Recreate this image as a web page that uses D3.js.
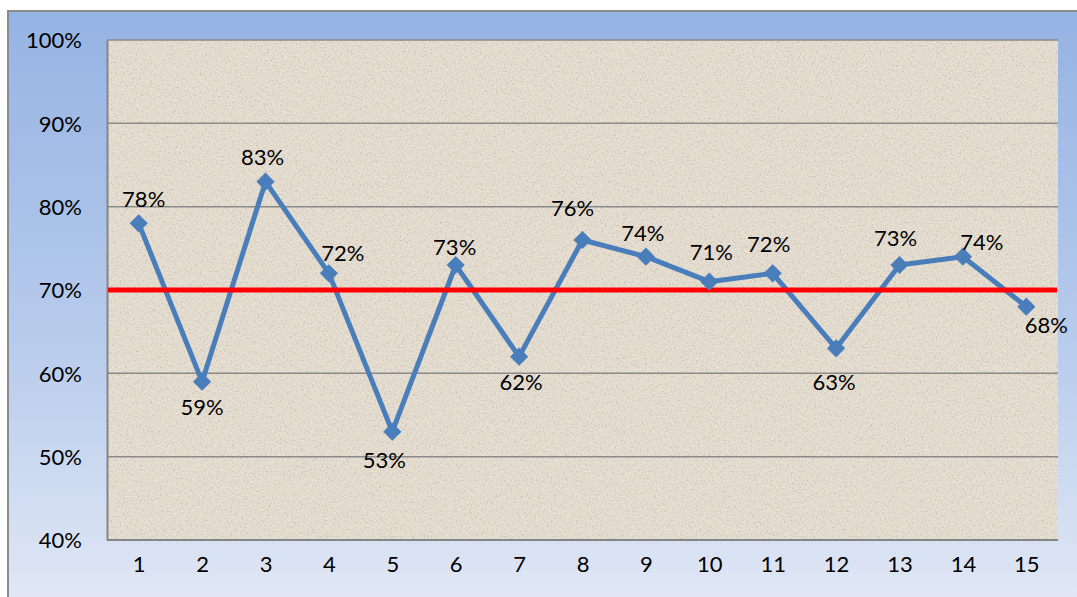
<!DOCTYPE html>
<html>
<head>
<meta charset="utf-8">
<script src="https://cdn.jsdelivr.net/npm/d3@7"></script>
<style>
  html, body { margin: 0; padding: 0; background: #ffffff; }
  svg { display: block; }
  text { font-family: Lato, "Open Sans", "Liberation Sans", sans-serif; fill: #000; }
</style>
</head>
<body>
<svg id="chart" width="1077" height="597"></svg>
<script>
// Weekly rates, one point per period
const periods = [1, 2, 3, 4, 5, 6, 7, 8, 9, 10, 11, 12, 13, 14, 15];
const rates = [0.78, 0.59, 0.83, 0.72, 0.53, 0.73, 0.62, 0.76, 0.74, 0.71, 0.72, 0.63, 0.73, 0.74, 0.68];
const target = [0.70];
const yTicks = [0.4, 0.5, 0.6, 0.7, 0.8, 0.9, 1.0];

// Label placement relative to each marker (px)
const labelOffset = [
  [5, -24], [0, 25], [-3, -25], [14, -20], [-8, 28],
  [-1, -18], [2, 25], [-10, -32], [-3, -24], [2, -30],
  [-4, -29], [-2, 34], [-4, -27], [19, -15], [20, 18]
];

const W = 1077, H = 597;
const plot = { left: 107, top: 40, right: 1058, bottom: 540 };

const svg = d3.select("#chart");
const defs = svg.append("defs");

// Outer chart background: blue vertical gradient
const bg = defs.append("linearGradient").attr("id", "bgGrad")
  .attr("x1", 0).attr("y1", 0).attr("x2", 0).attr("y2", 1);
bg.append("stop").attr("offset", "0%").attr("stop-color", "#95b3e3");
bg.append("stop").attr("offset", "55%").attr("stop-color", "#b7cbec");
bg.append("stop").attr("offset", "100%").attr("stop-color", "#e2e8f5");

// Paper-like texture for the plot area
const tex = defs.append("filter").attr("id", "paper")
  .attr("x", 0).attr("y", 0).attr("width", 1).attr("height", 1);
tex.append("feTurbulence").attr("type", "fractalNoise")
  .attr("baseFrequency", 0.55).attr("numOctaves", 3).attr("seed", 7).attr("result", "n");
tex.append("feColorMatrix").attr("in", "n").attr("type", "matrix")
  .attr("values", "0 0 0 0 0.45  0 0 0 0 0.40  0 0 0 0 0.34  1.8 0 0 0 -0.95")
  .attr("result", "dark");
tex.append("feColorMatrix").attr("in", "n").attr("type", "matrix")
  .attr("values", "0 0 0 0 0.97  0 0 0 0 0.95  0 0 0 0 0.92  -1.8 0 0 0 0.72")
  .attr("result", "light");
const merge = tex.append("feMerge");
merge.append("feMergeNode").attr("in", "dark");
merge.append("feMergeNode").attr("in", "light");

svg.append("rect")
  .attr("x", 8).attr("y", 11).attr("width", W).attr("height", H)
  .attr("fill", "url(#bgGrad)").attr("stroke", "#8c8c8c").attr("stroke-width", 2);

const x = d3.scalePoint().domain(periods)
  .range([plot.left, plot.right]).padding(0.5);
const y = d3.scaleLinear().domain([0.4, 1.0]).range([plot.bottom, plot.top]);

// Plot area
svg.append("rect")
  .attr("x", plot.left).attr("y", plot.top)
  .attr("width", plot.right - plot.left).attr("height", plot.bottom - plot.top)
  .attr("fill", "#e4dccf");
svg.append("rect")
  .attr("x", plot.left).attr("y", plot.top)
  .attr("width", plot.right - plot.left).attr("height", plot.bottom - plot.top)
  .attr("fill", "#fff").attr("filter", "url(#paper)").attr("opacity", 0.9);

// Horizontal gridlines
svg.append("g").selectAll("line").data(yTicks.filter(t => t > 0.4)).join("line")
  .attr("x1", plot.left).attr("x2", plot.right)
  .attr("y1", d => y(d)).attr("y2", d => y(d))
  .attr("stroke", "#8a8a8a").attr("stroke-width", 1.5);

// Axes
const fmt = d3.format(".0%");
const yAxis = svg.append("g").attr("transform", `translate(${plot.left},0)`)
  .call(d3.axisLeft(y).tickValues(yTicks).tickFormat(fmt).tickSize(0).tickPadding(25));
yAxis.select(".domain").attr("stroke", "#858585").attr("stroke-width", 2);
yAxis.selectAll("text").style("font-size", "22px").attr("dy", "0.36em");

const xAxis = svg.append("g").attr("transform", `translate(0,${plot.bottom})`)
  .call(d3.axisBottom(x).tickSize(0).tickPadding(24));
xAxis.select(".domain").attr("stroke", "#858585").attr("stroke-width", 2)
  .attr("d", `M${plot.left},0H${plot.right}`);
xAxis.selectAll("text").style("font-size", "22px").attr("dy", "0.36em");

// Rate series
const line = d3.line().x((d, i) => x(periods[i])).y(d => y(d));
svg.append("path").datum(rates)
  .attr("d", line).attr("fill", "none")
  .attr("stroke", "#4a7ebb").attr("stroke-width", 5).attr("stroke-linejoin", "round");

// Target line
svg.append("g").selectAll("line").data(target).join("line")
  .attr("x1", plot.left + 1).attr("x2", plot.right - 1)
  .attr("y1", d => y(d)).attr("y2", d => y(d))
  .attr("stroke", "#ff0000").attr("stroke-width", 5);

// Diamond markers
svg.append("g").selectAll("path").data(rates).join("path")
  .attr("transform", (d, i) => `translate(${x(periods[i])},${y(d)}) rotate(45)`)
  .attr("d", d3.symbol(d3.symbolSquare, 165))
  .attr("fill", "#4a7ebb");

// Value labels
svg.append("g").selectAll("text").data(rates).join("text")
  .attr("x", (d, i) => x(periods[i]) + labelOffset[i][0])
  .attr("y", (d, i) => y(d) + labelOffset[i][1])
  .attr("dy", "0.36em")
  .attr("text-anchor", "middle")
  .style("font-size", "22px")
  .text(d => fmt(d));
</script>
</body>
</html>
